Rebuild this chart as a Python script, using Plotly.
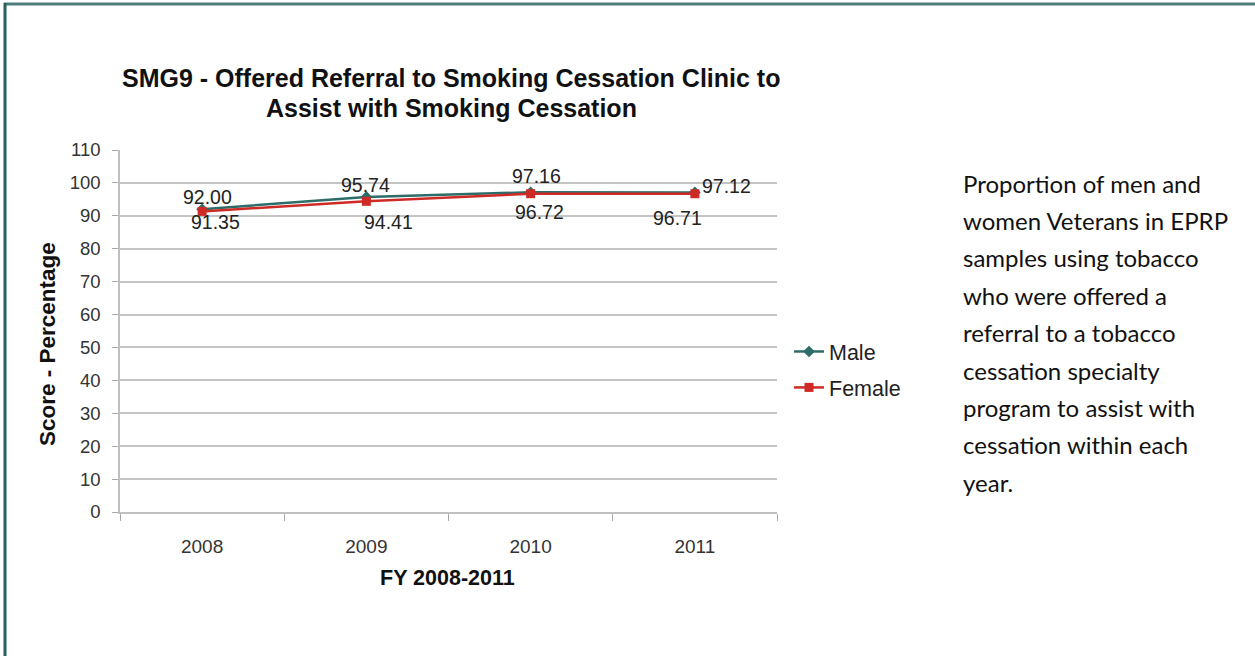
import plotly.graph_objects as go

years = ["2008", "2009", "2010", "2011"]
male = [92.00, 95.74, 97.16, 97.12]
female = [91.35, 94.41, 96.72, 96.71]
y_ticks = list(range(0, 111, 10))

# pixel offsets of the value labels from their points (style only)
male_off = [(5, -12), (-1, -12), (6, -16), (32, -6)]
female_off = [(13, 11), (22, 21), (9, 18), (-17, 24)]

title_lines = ["SMG9 - Offered Referral to Smoking Cessation Clinic to",
               "Assist with Smoking Cessation"]
x_title = "FY 2008-2011"
y_title = "Score - Percentage"
note_lines = ["Proportion of men and", "women Veterans in EPRP", "samples using tobacco",
              "who were offered a", "referral to a tobacco", "cessation specialty",
              "program to assist with", "cessation within each", "year."]

W, H = 1255, 656
L, R, T, B = 120, 777, 150, 512


def px(x):
    return (x - L) / (R - L)


def py(y):
    return (B - y) / (B - T)


MALE_C = "#2C6C69"
FEMALE_C = "#CF2B26"
CHART_FONT = "Liberation Sans, Arial, sans-serif"

fig = go.Figure()
fig.add_trace(go.Scatter(
    x=years, y=male, name="Male", mode="lines+markers", legendgroup="m",
    line=dict(color=MALE_C, width=2.5),
    marker=dict(symbol="diamond", size=9, color=MALE_C),
    cliponaxis=False,
))
fig.add_trace(go.Scatter(
    x=years, y=female, name="Female", mode="lines+markers", legendgroup="f",
    line=dict(color=FEMALE_C, width=2.5),
    marker=dict(symbol="square", size=9, color=FEMALE_C),
    cliponaxis=False,
))

annotations = []
for series, offs in ((male, male_off), (female, female_off)):
    for i, (yv, (dx, dy)) in enumerate(zip(series, offs)):
        # category axis: annotation x is the category's serial index
        annotations.append(dict(
            x=i, y=yv, xref="x", yref="y", text=f"{yv:.2f}", showarrow=False,
            xanchor="center", yanchor="middle", xshift=dx, yshift=-dy,
            font=dict(family=CHART_FONT, size=19.5, color="#222222")))

for i, line in enumerate(title_lines):
    annotations.append(dict(
        text=f"<b>{line}</b>", x=px(451), y=py(78 + 30 * i), xref="paper", yref="paper",
        xanchor="center", yanchor="middle", showarrow=False,
        font=dict(family=CHART_FONT, size=25, color="#111111")))
annotations.append(dict(
    text=f"<b>{x_title}</b>", x=px(447), y=py(578), xref="paper", yref="paper",
    xanchor="center", yanchor="middle", showarrow=False,
    font=dict(family=CHART_FONT, size=21.5, color="#111111")))
annotations.append(dict(
    text=f"<b>{y_title}</b>", x=px(47), y=py(344), xref="paper", yref="paper",
    xanchor="center", yanchor="middle", showarrow=False, textangle=-90,
    font=dict(family=CHART_FONT, size=22.5, color="#111111")))
for i, line in enumerate(note_lines):
    annotations.append(dict(
        text=line, x=px(961), y=py(183 + 37.4 * i), xref="paper", yref="paper",
        xanchor="left", yanchor="middle", showarrow=False, align="left",
        font=dict(family="Lato, Open Sans, sans-serif", size=24, color="#111111")))

shapes = [
    dict(type="line", xref="paper", yref="paper", x0=px(4), x1=px(1260), y0=py(4), y1=py(4),
         line=dict(color="#4E7E7C", width=3)),
    dict(type="line", xref="paper", yref="paper", x0=px(5), x1=px(5), y0=py(3), y1=py(660),
         line=dict(color="#275F5B", width=3)),
]

fig.update_layout(
    width=W, height=H, autosize=False,
    margin=dict(l=L, r=W - R, t=T, b=H - B, pad=0),
    paper_bgcolor="white", plot_bgcolor="white",
    showlegend=True,
    legend=dict(x=px(789), y=py(331), xanchor="left", yanchor="top",
                font=dict(family=CHART_FONT, size=21.5, color="#222222"),
                bgcolor="rgba(0,0,0,0)", traceorder="grouped", tracegroupgap=5),
    annotations=annotations, shapes=shapes,
    xaxis=dict(type="category", range=[-0.5, 3.5], tickson="boundaries",
               ticks="outside", ticklen=7, tickcolor="#AAAAAA", tickwidth=1,
               ticklabelstandoff=16,
               showgrid=False, showline=True, linecolor="#BFBFBF", linewidth=1.5,
               tickfont=dict(family=CHART_FONT, size=19, color="#333333"),
               zeroline=False),
    yaxis=dict(range=[0, 110], tickvals=y_ticks, ticks="outside", ticklen=6,
               tickcolor="#AAAAAA", showgrid=True, gridcolor="#C4C4C4", gridwidth=1.5,
               ticklabelstandoff=8,
               showline=True, linecolor="#BFBFBF", linewidth=1.5, zeroline=False,
               tickfont=dict(family=CHART_FONT, size=18.5, color="#333333")),
)

fig.write_html("out.html")
